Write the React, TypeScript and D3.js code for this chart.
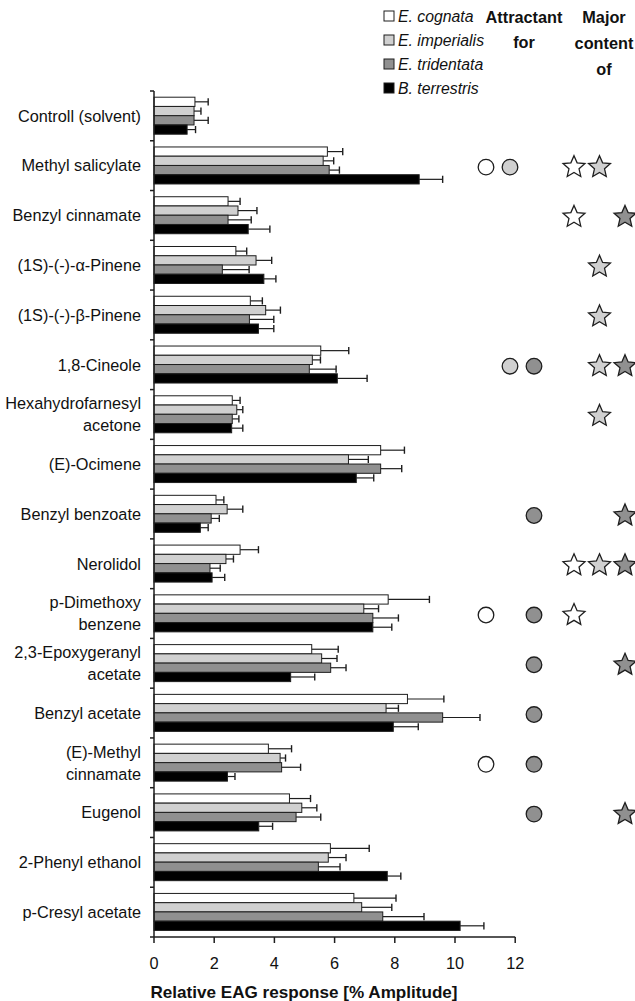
import React from "react";
import * as d3 from "d3";

const categories = [
  "Controll (solvent)",
  "Methyl salicylate",
  "Benzyl cinnamate",
  "(1S)-(-)-α-Pinene",
  "(1S)-(-)-β-Pinene",
  "1,8-Cineole",
  "Hexahydrofarnesyl\nacetone",
  "(E)-Ocimene",
  "Benzyl benzoate",
  "Nerolidol",
  "p-Dimethoxy\nbenzene",
  "2,3-Epoxygeranyl\nacetate",
  "Benzyl acetate",
  "(E)-Methyl\ncinnamate",
  "Eugenol",
  "2-Phenyl ethanol",
  "p-Cresyl acetate",
];

const seriesNames = ["E. cognata", "E. imperialis", "E. tridentata", "B. terrestris"];

// mean values
const cognata = [1.36, 5.76, 2.46, 2.72, 3.2, 5.54, 2.6, 7.53, 2.06, 2.86, 7.78, 5.24, 8.42, 3.8, 4.5, 5.86, 6.64];
const imperialis = [1.33, 5.62, 2.79, 3.39, 3.71, 5.26, 2.75, 6.46, 2.43, 2.39, 6.97, 5.57, 7.71, 4.19, 4.91, 5.79, 6.9];
const tridentata = [1.33, 5.82, 2.46, 2.27, 3.17, 5.16, 2.6, 7.53, 1.9, 1.86, 7.27, 5.87, 9.59, 4.24, 4.72, 5.46, 7.6];
const terrestris = [1.1, 8.81, 3.13, 3.65, 3.47, 6.09, 2.58, 6.72, 1.54, 1.93, 7.27, 4.54, 7.95, 2.44, 3.48, 7.75, 10.17];

// upper end of error bars
const cognataErr = [1.8, 6.27, 2.86, 3.08, 3.6, 6.47, 2.86, 8.32, 2.32, 3.47, 9.15, 6.12, 9.63, 4.57, 5.2, 7.15, 8.04];
const imperialisErr = [1.56, 5.97, 3.42, 3.91, 4.2, 5.53, 2.95, 7.12, 2.95, 2.64, 7.46, 6.08, 8.12, 4.37, 5.41, 6.38, 7.9];
const tridentataErr = [1.8, 6.16, 3.23, 3.16, 3.98, 6.05, 2.82, 8.23, 2.17, 2.2, 8.12, 6.38, 10.83, 4.87, 5.54, 6.18, 8.97];
const terrestrisErr = [1.38, 9.59, 3.85, 4.05, 3.98, 7.08, 2.95, 7.3, 1.8, 2.35, 7.9, 5.34, 8.78, 2.69, 3.94, 8.2, 10.96];

// 0 = E. cognata, 1 = E. imperialis, 2 = E. tridentata
const attractantFor = [[], [0, 1], [], [], [], [1, 2], [], [], [2], [], [0, 2], [2], [2], [0, 2], [2], [], []];
const majorContentOf = [[], [0, 1], [0, 2], [1], [1], [1, 2], [1], [], [2], [0, 1, 2], [0], [2], [], [], [2], [], []];

const xTicks = [0, 2, 4, 6, 8, 10, 12];

const fills = ["#ffffff", "#d0d0d0", "#909090", "#000000"];
const INK = "#1e1e1e";
const FONT = "'Liberation Sans', Arial, sans-serif";

const means = [cognata, imperialis, tridentata, terrestris];
const errs = [cognataErr, imperialisErr, tridentataErr, terrestrisErr];

const starPath = (outer: number, inner: number) => {
  const pts: [number, number][] = d3.range(10).map((i) => [(i * Math.PI) / 5, i % 2 ? inner : outer]);
  return d3.lineRadial().curve(d3.curveLinearClosed)(pts) as string;
};

export default function App() {
  const width = 635;
  const height = 1001;

  const x = d3.scaleLinear().domain([0, 12]).range([154, 515.2]);
  const y = d3.scaleBand().domain(categories).range([91, 937]).paddingInner(0).paddingOuter(0);
  const bw = y.bandwidth();
  const ySub = d3.scaleBand().domain(d3.range(4).map(String)).range([6.2, 43.2]);
  const barH = ySub.bandwidth();

  const circleX = d3.scalePoint().domain(["0", "1", "2"]).range([486, 534]);
  const starX = d3.scalePoint().domain(["0", "1", "2"]).range([574, 625]);
  const star = starPath(11.5, 5.3);

  return (
    <svg width={width} height={height} style={{ position: "absolute", left: 0, top: 0, background: "#fff" }} fontFamily={FONT}>
      {/* bars */}
      {categories.map((c, ci) => (
        <g key={c} transform={`translate(0,${y(c)})`}>
          {means.map((m, si) => {
            const yy = ySub(String(si))!;
            const cy = yy + barH / 2;
            return (
              <g key={si}>
                <line x1={x(m[ci])} x2={x(errs[si][ci])} y1={cy} y2={cy} stroke={INK} strokeWidth={1.2} />
                <line x1={x(errs[si][ci])} x2={x(errs[si][ci])} y1={cy - 3.6} y2={cy + 3.6} stroke={INK} strokeWidth={1.4} />
                <rect x={x(0)} y={yy} width={x(m[ci]) - x(0)} height={barH} fill={fills[si]} stroke={INK} strokeWidth={1} />
              </g>
            );
          })}
        </g>
      ))}

      {/* y axis */}
      <line x1={x(0)} x2={x(0)} y1={91} y2={937} stroke={INK} strokeWidth={1.5} />
      {[...categories.map((c) => y(c)!), 937].map((t, i) => (
        <line key={i} x1={x(0) - 4} x2={x(0)} y1={t} y2={t} stroke={INK} strokeWidth={1.5} />
      ))}
      {categories.map((c) => {
        const lines = c.split("\n");
        const cy = y(c)! + bw / 2;
        return (
          <text key={c} textAnchor="end" fontSize={16.3} fill="#111">
            {lines.map((l, li) => (
              <tspan key={li} x={141} y={cy + 5.8 + (li - (lines.length - 1) / 2) * 22}>
                {l}
              </tspan>
            ))}
          </text>
        );
      })}

      {/* x axis */}
      <line x1={x(0)} x2={x(12)} y1={937} y2={937} stroke={INK} strokeWidth={1.5} />
      {xTicks.map((t) => (
        <g key={t}>
          <line x1={x(t)} x2={x(t)} y1={937} y2={943} stroke={INK} strokeWidth={1.5} />
          <text x={x(t)} y={969} textAnchor="middle" fontSize={16.3} fill="#111">
            {t}
          </text>
        </g>
      ))}
      <text x={304} y={998} textAnchor="middle" fontSize={17.1} fontWeight="bold" fill="#111">
        Relative EAG response [% Amplitude]
      </text>

      {/* legend */}
      {seriesNames.map((s, i) => (
        <g key={s} transform={`translate(384,${16 + i * 24})`}>
          <rect x={0} y={-5} width={10} height={10} fill={fills[i]} stroke={INK} strokeWidth={1} />
          <text x={14} y={5.7} fontSize={15.8} fontStyle="italic" fill="#111">
            {s}
          </text>
        </g>
      ))}

      {/* column headers */}
      <text textAnchor="middle" fontSize={16.3} fontWeight="bold" fill="#111">
        <tspan x={524} y={23}>Attractant</tspan>
        <tspan x={524} y={48}>for</tspan>
      </text>
      <text textAnchor="middle" fontSize={16.3} fontWeight="bold" fill="#111">
        <tspan x={604} y={23}>Major</tspan>
        <tspan x={604} y={49}>content</tspan>
        <tspan x={604} y={75}>of</tspan>
      </text>

      {/* attractant circles */}
      {categories.map((c, ci) =>
        attractantFor[ci].map((s) => (
          <circle key={c + s} cx={circleX(String(s))} cy={y(c)! + bw / 2 + 1.5} r={7.8} fill={fills[s]} stroke={INK} strokeWidth={1.3} />
        ))
      )}

      {/* major content stars */}
      {categories.map((c, ci) =>
        majorContentOf[ci].map((s) => (
          <path
            key={c + s}
            d={star}
            transform={`translate(${starX(String(s))},${y(c)! + bw / 2 + 1.5})`}
            fill={fills[s]}
            stroke={INK}
            strokeWidth={1.3}
            strokeLinejoin="miter"
          />
        ))
      )}
    </svg>
  );
}
